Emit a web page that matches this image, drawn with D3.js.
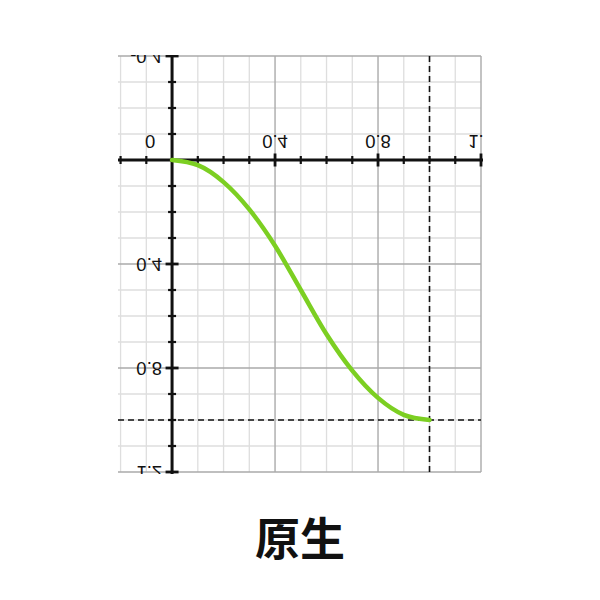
<!DOCTYPE html>
<html><head><meta charset="utf-8">
<script src="https://cdn.jsdelivr.net/npm/d3@7"></script>
<style>body{margin:0;background:#fff}</style></head><body>
<script>
// ---- data ----
const curveX = [0, 0.1, 0.2, 0.3, 0.4, 0.5, 0.6, 0.7, 0.8, 0.9, 1.0];
const curveY = [0, 0.02, 0.085, 0.19, 0.33, 0.5, 0.67, 0.81, 0.915, 0.98, 1.0];
const xTickValues = [0.4, 0.8, 1.2];
const xTickLabels = ["0.4", "0.8", "1.2"];
const yTickValues = [-0.4, 0.4, 0.8, 1.2];
const yTickLabels = ["-0.4", "0.4", "0.8", "1.2"];
const originLabel = "0";
const markerX = 1.0, markerY = 1.0;
const title = "原生";
const xDomain = [-0.21, 1.2], yDomain = [-0.4, 1.2];
const minorStep = 0.1, majorStep = 0.4;

// ---- layout ----
const W = 600, H = 600;
const L = 118, R = 481, T = 56, B = 472;
const svg = d3.select("body").append("svg").attr("width", W).attr("height", H)
  .style("font-family", "'Liberation Sans', Arial, sans-serif");
const x = d3.scaleLinear().domain(xDomain).range([L, R]);
const y = d3.scaleLinear().domain(yDomain).range([B, T]);

svg.append("defs").append("clipPath").attr("id", "clip")
  .append("rect").attr("x", L - 1).attr("y", T - 1).attr("width", R - L + 3).attr("height", B - T + 3);

const outer = svg.append("g").attr("clip-path", "url(#clip)");
const g = outer.append("g").attr("transform", `translate(0,${T + B}) scale(1,-1)`);

const near = (v, s) => Math.abs(v / s - Math.round(v / s)) < 1e-6;
const xs = d3.range(Math.ceil(xDomain[0] / minorStep), Math.floor(xDomain[1] / minorStep + 1e-6) + 1).map(i => +(i * minorStep).toFixed(2));
const ys = d3.range(Math.ceil(yDomain[0] / minorStep - 1e-6), Math.floor(yDomain[1] / minorStep + 1e-6) + 1).map(i => +(i * minorStep).toFixed(2));

// minor grid
g.selectAll(".vminor").data(xs.filter(v => !near(v, majorStep))).join("line")
  .attr("x1", d => x(d)).attr("x2", d => x(d)).attr("y1", T).attr("y2", B)
  .attr("stroke", "#dedede").attr("stroke-width", 1.3);
g.selectAll(".hminor").data(ys.filter(v => !near(v, majorStep))).join("line")
  .attr("y1", d => y(d)).attr("y2", d => y(d)).attr("x1", L).attr("x2", R)
  .attr("stroke", "#dedede").attr("stroke-width", 1.3);
// major grid
g.selectAll(".vmajor").data(xs.filter(v => near(v, majorStep))).join("line")
  .attr("x1", d => x(d)).attr("x2", d => x(d)).attr("y1", T).attr("y2", B)
  .attr("stroke", "#aaaaaa").attr("stroke-width", 1.4);
g.selectAll(".hmajor").data(ys.filter(v => near(v, majorStep))).join("line")
  .attr("y1", d => y(d)).attr("y2", d => y(d)).attr("x1", L).attr("x2", R)
  .attr("stroke", "#aaaaaa").attr("stroke-width", 1.4);

// dashed markers
g.append("line").attr("x1", x(markerX)).attr("x2", x(markerX)).attr("y1", T).attr("y2", B)
  .attr("stroke", "#111").attr("stroke-width", 1.6).attr("stroke-dasharray", "6,4");
g.append("line").attr("y1", y(markerY)).attr("y2", y(markerY)).attr("x1", L).attr("x2", R)
  .attr("stroke", "#111").attr("stroke-width", 1.6).attr("stroke-dasharray", "6,4");

// axes
const x0 = x(0), y0 = y(0);
g.append("line").attr("x1", L).attr("x2", R + 2).attr("y1", y0).attr("y2", y0).attr("stroke", "#111").attr("stroke-width", 3);
g.append("line").attr("x1", x0).attr("x2", x0).attr("y1", T - 2).attr("y2", B + 2).attr("stroke", "#111").attr("stroke-width", 3);

// ticks
g.selectAll(".xt").data(xs.filter(v => Math.abs(v) > 1e-6)).join("line")
  .attr("x1", d => x(d)).attr("x2", d => x(d))
  .attr("y1", d => y0 - (near(d, majorStep) ? 6.5 : 4)).attr("y2", d => y0 + (near(d, majorStep) ? 6.5 : 4))
  .attr("stroke", "#111").attr("stroke-width", d => near(d, majorStep) ? 2.8 : 2.2);
g.selectAll(".yt").data(ys.filter(v => Math.abs(v) > 1e-6)).join("line")
  .attr("y1", d => y(d)).attr("y2", d => y(d))
  .attr("x1", d => x0 - (near(d, majorStep) ? 6.5 : 4)).attr("x2", d => x0 + (near(d, majorStep) ? 6.5 : 4))
  .attr("stroke", "#111").attr("stroke-width", d => near(d, majorStep) ? 2.8 : 2.2);

// tick labels
const fs = 18.5;
g.selectAll(".xl").data(xTickValues).join("text")
  .attr("x", d => x(d)).attr("y", y0 + 19).attr("text-anchor", "middle").attr("dominant-baseline", "central")
  .attr("font-size", fs).attr("fill", "#111").text((d, i) => xTickLabels[i]);
g.append("text").attr("x", x0 - 22).attr("y", y0 + 19).attr("text-anchor", "middle").attr("dominant-baseline", "central")
  .attr("font-size", fs).attr("fill", "#111").text(originLabel);
g.selectAll(".yl").data(yTickValues).join("text")
  .attr("x", x0 - 10).attr("y", d => y(d)).attr("text-anchor", "end").attr("dominant-baseline", "central")
  .attr("font-size", fs).attr("fill", "#111").text((d, i) => yTickLabels[i]);

// curve
const pts = curveX.map((v, i) => [v, curveY[i]]);
g.append("path").datum(pts)
  .attr("d", d3.line().x(d => x(d[0])).y(d => y(d[1])).curve(d3.curveMonotoneX))
  .attr("fill", "none").attr("stroke", "#7ccf22").attr("stroke-width", 4.5).attr("stroke-linecap", "round");

// title
svg.append("text").attr("x", W / 2).attr("y", 536).attr("text-anchor", "middle").attr("dominant-baseline", "central")
  .attr("font-family", "'Noto Sans CJK SC', sans-serif").attr("font-weight", "bold").attr("font-size", 45)
  .attr("fill", "#111").text(title);
</script>
</body></html>
